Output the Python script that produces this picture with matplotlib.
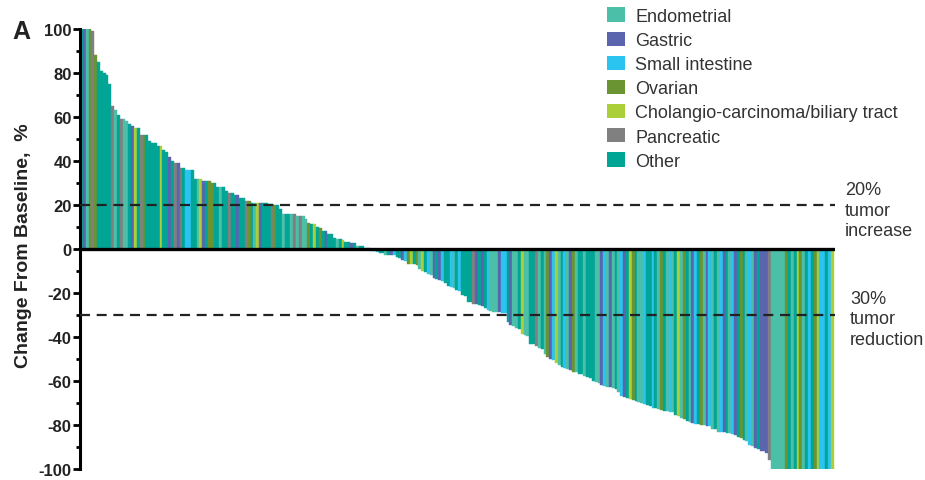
import matplotlib
matplotlib.use("Agg")
import matplotlib.pyplot as plt
from matplotlib.patches import Patch
from matplotlib.ticker import MultipleLocator

plt.rcParams["font.family"] = ["Liberation Sans", "DejaVu Sans"]
plt.rcParams["axes.unicode_minus"] = False

# best % change from baseline, one value per patient (sorted)
change = [
    100, 100, 100, 100, 99, 88, 85, 81, 80, 79, 75, 65, 63, 61, 59, 59, 58, 57, 56, 55,
    55, 52, 52, 52, 49, 48, 48, 47, 47, 45, 44, 42, 40, 39, 39, 37, 37, 36, 36, 36,
    32, 32, 32, 31, 31, 31, 30, 30, 28, 28, 28, 26.5, 25.5, 25.5, 24.5, 24.5, 23, 23,
    22, 22, 21, 21, 21, 21, 21, 21, 20.5, 20.5, 20, 20, 18, 16, 16, 16, 16, 16,
    15, 15, 15, 13.5, 12, 11.5, 11.5, 10, 9.5, 8, 8, 7, 7, 5, 4.5, 4.5, 4, 3.3, 3.3,
    2.6, 2.6, 1.5, 1.5, 1.5, 0.5, 0.5, -0.8, -0.8, -1.5, -1.7, -2, -2.7, -2.7, -2.7, -2.8,
    -3.8, -4, -5, -5.5, -6.8, -7, -7, -7.2, -9, -9.8, -10.6, -11.4, -12, -13, -13.5,
    -14.2, -14.6, -15.6, -17, -17.1, -17.5, -18.5, -19, -21, -21.5, -24, -24.3, -25, -25,
    -25.6, -26, -27, -27.5, -28,
    -28.5, -28.6, -28.8, -29, -29.2, -33, -34.5, -35, -35.8, -36.2, -38.6, -39.2, -39.6,
    -43, -43.4, -44, -45, -45.4, -47.7, -49.2, -50, -50.5, -52, -52.5, -53.6, -54, -54.7,
    -55, -55.7, -56, -56.6, -57, -57.7, -58, -58.8,
    -59.8, -60.4, -60.8, -62, -62.3, -62.5, -62.7, -63.2, -63.5, -65.2, -66.7, -67.3,
    -67.6, -68.3, -68.7, -69.3, -69.6, -70, -70.3, -71, -71.4, -72.2, -72.4, -72.6, -73.3,
    -73.5, -73.7, -74, -74.3, -75.4, -75.7, -77, -77.2, -78,
    -78.8, -79.3, -79.5, -79.7, -80, -80.2, -80.4, -80.6, -81.6, -82, -83, -83.2, -83.4,
    -83.6, -83.8, -84.3, -84.7, -85.5, -85.8, -87, -87.3, -89.2, -89.6, -90.5, -90.8,
    -91.6, -91.9, -92.5, -96,
    -100, -100, -100, -100, -100, -100, -100, -100, -100, -100, -100,
    -100, -100, -100, -100, -100, -100, -100, -100, -100, -100, -100,
]

# tumor type per bar: E endometrial, G gastric, S small intestine, V ovarian,
# C cholangiocarcinoma, P pancreatic, O other
tumor_type = (
    "OGEVPVOOOOOPEOPEEOGCOPVOOOOOCOOGOPGPOSSO"
    "OECGOVVOOEOOPOOGOOPVOECGOOOPVOOEOOEP"
    "EPEEVOCOVOGOOOEOCOOGOEOOSOSESOOEOGS"
    "OOGSVCOVECOSEGOGSOOSEOSOOOOPGOGOSE"
    "EEGSSOGEEOCEEOOPEOEVGSCEOSEGVEOOEOO"
    "OEEGSEGEOESGOCVOEESOOSOEVOESEOCEVO"
    "EGSOVEGSEOESGOESGOVOESEGOGGGP"
    "EEEEEVOEOCVEOSOVCSSOSC"
)

type_codes = ["E", "G", "S", "V", "C", "P", "O"]
type_names = ["Endometrial", "Gastric", "Small intestine", "Ovarian",
              "Cholangio-carcinoma/biliary tract", "Pancreatic", "Other"]
type_colors = ["#4cbfa9", "#5a65ae", "#2bc3f0", "#6a9431", "#abcf38", "#808080", "#00a596"]
color_of = dict(zip(type_codes, type_colors))

n = len(change)
colors = [color_of[t] for t in tumor_type[:n]]

fig = plt.figure(figsize=(9.25, 4.81), dpi=100)
ax = fig.add_axes([80 / 925, 11 / 481, 755 / 925, 440 / 481])

ax.bar(range(n), change, width=1.0, color=colors, edgecolor=colors, linewidth=0.3)

ax.set_xlim(-0.5, n - 0.5 + 0.5)
ax.set_ylim(-100, 100)

ax.axhline(0, color="black", linewidth=2.4, zorder=3)
ax.axhline(20, color="#222222", linewidth=1.6, dashes=(4.5, 3), zorder=3)
ax.axhline(-30, color="#222222", linewidth=1.6, dashes=(4.5, 3), zorder=3)

for side in ["top", "right", "bottom"]:
    ax.spines[side].set_visible(False)
ax.spines["left"].set_linewidth(2.2)
ax.set_xticks([])
ax.yaxis.set_major_locator(MultipleLocator(20))
ax.yaxis.set_minor_locator(MultipleLocator(10))
ax.tick_params(axis="y", which="major", length=5, width=2, labelsize=12, pad=1)
ax.tick_params(axis="y", which="minor", length=3, width=2)
for lbl in ax.get_yticklabels():
    lbl.set_fontweight("bold")
    lbl.set_color("#222222")

ax.set_ylabel("Change From Baseline,  %", fontsize=14, fontweight="bold", color="#222222")
ax.yaxis.set_label_coords(-0.064, 0.51)

fig.text(12 / 925, 1 - 32 / 481, "A", fontsize=18, fontweight="bold", va="center", color="#222222")

fig.text(845 / 925, 1 - 211 / 481, "20%\ntumor\nincrease", fontsize=13, va="center",
         ha="left", linespacing=1.3, color="#333333")
fig.text(850 / 925, 1 - 320 / 481, "30%\ntumor\nreduction", fontsize=13, va="center",
         ha="left", linespacing=1.3, color="#333333")

handles = [Patch(facecolor=c, edgecolor="none") for c in type_colors]
fig.legend(handles, type_names, loc="upper left", bbox_to_anchor=(602 / 925, 1 - 3 / 481),
           frameon=False, fontsize=13, handlelength=1.0, handleheight=0.85,
           handletextpad=0.55, labelspacing=0.37, borderaxespad=0, borderpad=0.3,
           labelcolor="#333333")

fig.savefig("out.png", dpi=100)
